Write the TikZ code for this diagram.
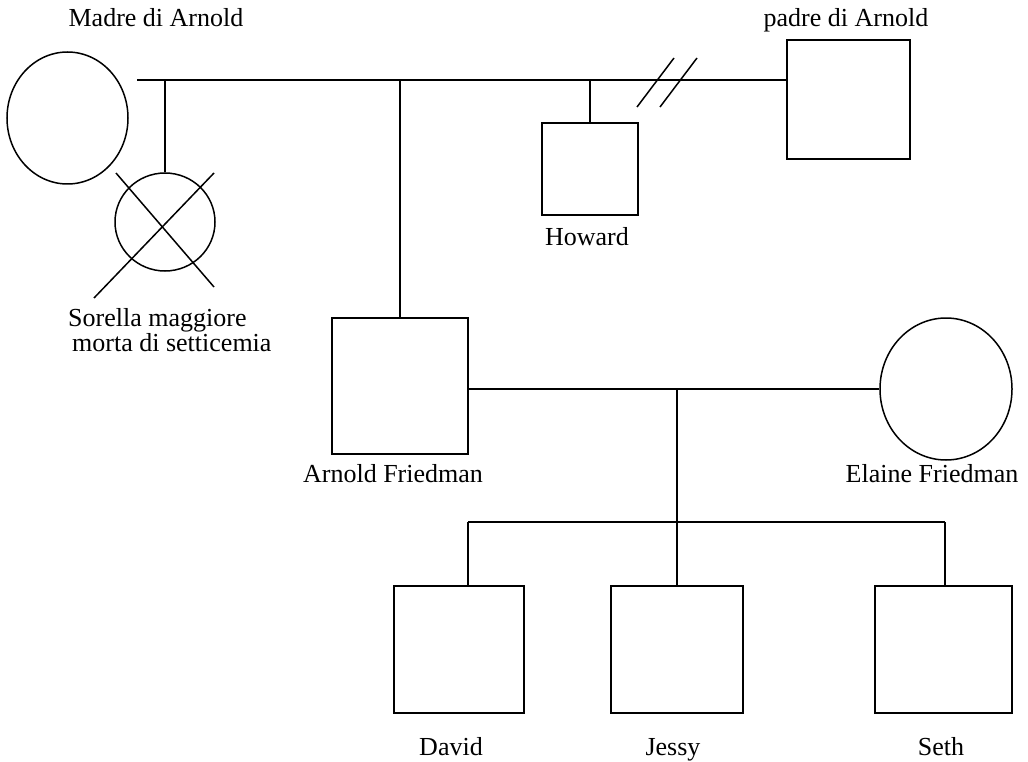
\documentclass[tikz,border=0pt]{standalone}
\usepackage{fontspec}
\setmainfont{Liberation Serif}
\usetikzlibrary{shapes.geometric}
\tikzset{
  male/.style={draw,rectangle,inner sep=0pt,line width=1.5pt},
  female/.style={draw,ellipse,inner sep=0pt,line width=1.5pt},
  tag/.style={anchor=base,inner sep=0pt,font=\fontsize{26}{21}\selectfont},
  link/.style={line width=1.5pt}
}
\begin{document}
\begin{tikzpicture}[x=1pt,y=-1pt]
  \useasboundingbox (0,0) rectangle (1028,762);
  \node[female,minimum width=121pt,minimum height=132pt] (madre) at (67.5,118) {};
  \node[male,minimum width=123pt,minimum height=119pt] (padre) at (848.5,99.5) {};
  \node[female,minimum width=100pt,minimum height=98pt] (sorella) at (165,222) {};
  \node[male,minimum width=96pt,minimum height=92pt] (howard) at (590,169) {};
  \node[male,minimum width=136pt,minimum height=136pt] (arnold) at (400,386) {};
  \node[female,minimum width=132pt,minimum height=142pt] (elaine) at (946,389) {};
  \node[male,minimum width=130pt,minimum height=127pt] (david) at (459,649.5) {};
  \node[male,minimum width=132pt,minimum height=127pt] (jessy) at (677,649.5) {};
  \node[male,minimum width=137pt,minimum height=127pt] (seth) at (943.5,649.5) {};

  \node[tag] (tmadre) at (156,27) {Madre di Arnold};
  \node[tag] (tpadre) at (846,27) {padre di Arnold};
  \node[tag] (thoward) at (587,245) {Howard};
  \node[tag,anchor=base west,align=left] (tsorella) at (68,351) {Sorella maggiore\\\hspace*{4pt}morta di setticemia};
  \node[tag] (tarnold) at (393,482) {Arnold Friedman};
  \node[tag] (telaine) at (932,482) {Elaine Friedman};
  \node[tag] (tdavid) at (451,755) {David};
  \node[tag] (tjessy) at (673,755) {Jessy};
  \node[tag] (tseth) at (941,755) {Seth};

  \coordinate (nonni) at (137,80);
  \draw[link] (nonni) -- (nonni -| padre.west);
  \draw[link] (nonni -| sorella.north) -- (sorella.north);
  \draw[link] (nonni -| arnold.north) -- (arnold.north);
  \draw[link] (nonni -| howard.north) -- (howard.north);
  \draw[link] (637,107) -- (674,58);
  \draw[link] (660,107) -- (697,58);
  \draw[link] (116,173) -- (214,287);
  \draw[link] (94,298) -- (214,173);

  \draw[link] (arnold.east |- elaine.west) -- (elaine.west);
  \coordinate (figliL) at (468,522);
  \coordinate (figliR) at (945,522);
  \draw[link] (figliL) -- (figliR);
  \draw[link] (figliL) -- (figliL |- david.north);
  \draw[link] (figliR) -- (figliR |- seth.north);
  \draw[link] (elaine.west -| jessy.north) -- (jessy.north);
\end{tikzpicture}
\end{document}
